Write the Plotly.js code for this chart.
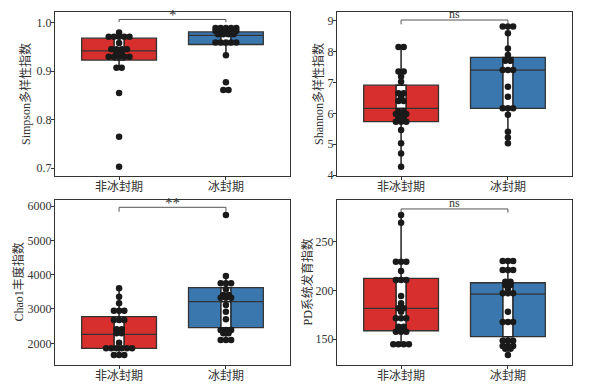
<!DOCTYPE html>
<html><head><meta charset="utf-8">
<script src="https://cdn.plot.ly/plotly-3.0.1.min.js"></script>
<style>html,body{margin:0;padding:0;background:#fff}</style>
</head><body><div id="chart" style="width:595px;height:385px"></div>
<script>
// ---- data ----
const groups = ['非冰封期', '冰封期'];
const yTitles = ['Simpson多样性指数', 'Shannon多样性指数', 'Chao1丰度指数', 'PD系统发育指数'];
const sigLabels = ['*', 'ns', '**', 'ns'];

const simpsonNon = [0.980, 0.971,0.971,0.971,0.971,0.971, 0.958, 0.945,0.945,0.945,0.945, 0.938,0.938, 0.930,0.930,0.930,0.930,0.930, 0.907,0.907, 0.855, 0.765, 0.703];
const simpsonIce = [0.989,0.989,0.989,0.989,0.989, 0.983,0.983,0.983,0.983,0.983, 0.976,0.976,0.976,0.976, 0.959,0.959,0.959,0.959,0.959, 0.933, 0.877, 0.861,0.861];
const shannonNon = [8.15,8.15, 7.35,7.35, 7.19, 7.02, 6.65,6.65, 6.52, 6.40,6.40, 6.05,6.05, 5.98,5.98,5.98, 5.85,5.85, 5.73,5.73,5.73, 5.46, 5.03, 4.70, 4.27];
const shannonIce = [8.81,8.81,8.81, 8.59, 8.10, 7.89, 7.70,7.70, 7.40,7.40,7.40, 6.86, 6.54, 6.16,6.16,6.16, 5.95, 5.40, 5.22, 5.03];
const chaoNon = [3602, 3357, 3165, 2950,2950,2950, 2680,2680,2680, 2407,2407, 2290,2290, 2017, 1854,1854,1854,1854,1854,1854, 1660,1660,1660];
const chaoIce = [5737, 3960, 3748,3748,3748, 3573, 3407,3407, 3329,3329,3329, 3116, 2920, 2699, 2387,2387,2387, 2291,2291, 2097,2097,2097];
const pdNon = [277.4, 269.5, 229.4,229.4,229.4, 219.9, 210.6,210.6,210.6, 194.2, 186.7, 181.5,181.5, 178.1, 171.3,171.3,171.3, 162.7,162.7, 157.5,157.5,157.5, 144.5,144.5,144.5,144.5];
const pdIce = [230.1,230.1,230.1, 220.9,220.9,220.9, 208.9,208.9, 205.5,205.5, 201.4, 197,197,197, 178, 167.5,167.5,167.5, 148.3,148.3,148.3, 142.8,142.8,142.8, 140,140, 133.6];

// box statistics [非冰封期, 冰封期]
const simpsonQ1 = [0.923, 0.955], simpsonMed = [0.942, 0.974], simpsonQ3 = [0.968, 0.981], simpsonLo = [0.907, 0.933], simpsonHi = [0.980, 0.989];
const shannonQ1 = [5.73, 6.16], shannonMed = [6.16, 7.40], shannonQ3 = [6.91, 7.81], shannonLo = [4.27, 5.03], shannonHi = [8.15, 8.81];
const chaoQ1 = [1854, 2455], chaoMed = [2262, 3212], chaoQ3 = [2775, 3620], chaoLo = [1660, 2097], chaoHi = [3602, 3960];
const pdQ1 = [158.5, 152.4], pdMed = [181.5, 196.2], pdQ3 = [212.3, 207.8], pdLo = [144.5, 133.6], pdHi = [277.4, 230.1];

// significance bracket levels
const sigY = [1.0066, 9.02, 5962, 283.6];
const sigFoot = [1.0012, 8.88, 5834, 279.8];

// ---- styling ----
const W = 595, H = 385;
const FONT = '"Liberation Serif", "Noto Sans CJK SC", serif';
const colors = ['#D62F2D', '#3A77AF'];
const xRange = [-0.6, 1.6];
const panels = [
  {pts: [simpsonNon, simpsonIce], q1: simpsonQ1, med: simpsonMed, q3: simpsonQ3, lo: simpsonLo, hi: simpsonHi,
   range: [0.684, 1.022], tickvals: [0.7, 0.8, 0.9, 1.0], fmt: '.1f', xd: [55, 290], yd: [12, 176], tx: 26},
  {pts: [shannonNon, shannonIce], q1: shannonQ1, med: shannonMed, q3: shannonQ3, lo: shannonLo, hi: shannonHi,
   range: [3.97, 9.28], tickvals: [4, 5, 6, 7, 8, 9], fmt: 'd', xd: [337, 572], yd: [12, 176], tx: 319},
  {pts: [chaoNon, chaoIce], q1: chaoQ1, med: chaoMed, q3: chaoQ3, lo: chaoLo, hi: chaoHi,
   range: [1368, 6175], tickvals: [2000, 3000, 4000, 5000, 6000], fmt: 'd', xd: [55, 290], yd: [200, 365], tx: 18},
  {pts: [pdNon, pdIce], q1: pdQ1, med: pdMed, q3: pdQ3, lo: pdLo, hi: pdHi,
   range: [123.3, 292.8], tickvals: [150, 200, 250], fmt: 'd', xd: [337, 572], yd: [200, 365], tx: 307},
];

const traces = [];
const layout = {
  width: W, height: H, margin: {l: 0, r: 0, t: 0, b: 0},
  paper_bgcolor: '#fff', plot_bgcolor: '#fff', showlegend: false,
  boxmode: 'overlay', font: {family: FONT, size: 12, color: '#333'},
  annotations: []
};

panels.forEach((p, i) => {
  const n = i === 0 ? '' : String(i + 1);
  const xa = 'x' + n, ya = 'y' + n;
  const pxPerUnit = (p.xd[1] - p.xd[0]) / (xRange[1] - xRange[0]);
  const d = 5.2 / pxPerUnit;

  // wide coloured boxes (no whiskers)
  [0, 1].forEach(g => {
    traces.push({type: 'box', xaxis: xa, yaxis: ya, x: [g],
      q1: [p.q1[g]], median: [p.med[g]], q3: [p.q3[g]], lowerfence: [p.q1[g]], upperfence: [p.q3[g]],
      width: 0.7, fillcolor: colors[g], line: {color: '#333', width: 1.3}, whiskerwidth: 0,
      boxpoints: false, hoverinfo: 'skip'});
  });
  // narrow white boxes with whiskers
  traces.push({type: 'box', xaxis: xa, yaxis: ya, x: [0, 1],
    q1: p.q1, median: p.med, q3: p.q3, lowerfence: p.lo, upperfence: p.hi,
    width: 10 / pxPerUnit, fillcolor: '#fff', line: {color: '#222', width: 1.5}, whiskerwidth: 0,
    boxpoints: false, hoverinfo: 'skip'});

  // dot plot: equal values stacked side by side, centred
  const xs = [], ys = [];
  p.pts.forEach((vals, g) => {
    const counts = new Map();
    vals.forEach(v => counts.set(v, (counts.get(v) || 0) + 1));
    counts.forEach((c, v) => {
      for (let k = 0; k < c; k++) { xs.push(g + (k - (c - 1) / 2) * d); ys.push(v); }
    });
  });
  traces.push({type: 'scatter', mode: 'markers', xaxis: xa, yaxis: ya, x: xs, y: ys,
    marker: {color: '#1a1a1a', size: 6.5}, hoverinfo: 'skip'});

  // significance bracket
  traces.push({type: 'scatter', mode: 'lines', xaxis: xa, yaxis: ya,
    x: [0, 0, 1, 1], y: [sigFoot[i], sigY[i], sigY[i], sigFoot[i]],
    line: {color: '#555', width: 1}, hoverinfo: 'skip'});
  const star = sigLabels[i].indexOf('*') >= 0;
  layout.annotations.push({xref: xa, yref: ya, x: 0.5, y: sigY[i], text: sigLabels[i],
    showarrow: false, yanchor: 'bottom', yshift: star ? -6 : -3,
    font: {family: FONT, size: star ? 15 : 12, color: '#333'}});

  // y-axis title
  layout.annotations.push({xref: 'paper', yref: 'paper', x: p.tx / W, y: 1 - (p.yd[0] + p.yd[1]) / 2 / H,
    xanchor: 'center', yanchor: 'middle', textangle: -90, text: yTitles[i], showarrow: false,
    font: {family: FONT, size: 12, color: '#333'}});

  layout['xaxis' + n] = {
    domain: [p.xd[0] / W, p.xd[1] / W], anchor: ya, range: xRange,
    tickvals: [0, 1], ticktext: groups, ticks: 'outside', ticklen: 3, tickcolor: '#333',
    ticklabelstandoff: -3,
    showline: true, mirror: true, linecolor: '#333', linewidth: 1, showgrid: false, zeroline: false,
    tickfont: {family: FONT, size: 12, color: '#333'}, fixedrange: true
  };
  layout['yaxis' + n] = {
    domain: [1 - p.yd[1] / H, 1 - p.yd[0] / H], anchor: xa, range: p.range,
    tickvals: p.tickvals, tickformat: p.fmt, ticks: 'outside', ticklen: 3, tickcolor: '#333',
    ticklabelstandoff: -3,
    showline: true, mirror: true, linecolor: '#333', linewidth: 1, showgrid: false, zeroline: false,
    tickfont: {family: FONT, size: 12, color: '#333'}, automargin: false, fixedrange: true
  };
});

Plotly.newPlot('chart', traces, layout, {staticPlot: true, displayModeBar: false});
</script></body></html>
